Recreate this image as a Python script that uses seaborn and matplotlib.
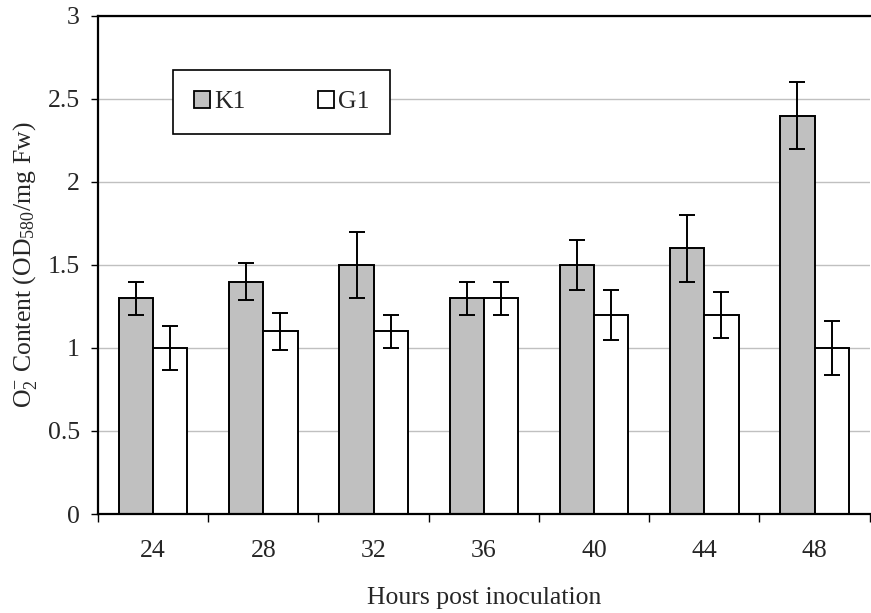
import numpy as np
import pandas as pd
import matplotlib
matplotlib.use("Agg")
import matplotlib.pyplot as plt
import seaborn as sns
from matplotlib.patches import Patch

hours = ["24", "28", "32", "36", "40", "44", "48"]
k1_vals = [1.3, 1.4, 1.5, 1.3, 1.5, 1.6, 2.4]
k1_err = [0.10, 0.11, 0.20, 0.10, 0.15, 0.20, 0.20]
g1_vals = [1.0, 1.1, 1.1, 1.3, 1.2, 1.2, 1.0]
g1_err = [0.13, 0.11, 0.10, 0.10, 0.15, 0.14, 0.16]
series = ["K1", "G1"]
colors = {"K1": "#c0c0c0", "G1": "#ffffff"}
yticks = [0, 0.5, 1, 1.5, 2, 2.5, 3]

sns.set_theme(style="white")
plt.rcParams["font.family"] = ["Liberation Serif", "DejaVu Serif"]
plt.rcParams["mathtext.fontset"] = "custom"
plt.rcParams["mathtext.rm"] = "Liberation Serif"
plt.rcParams["mathtext.it"] = "Liberation Serif:italic"

FS = 18.5

df = pd.DataFrame({
    "hour": hours * 2,
    "value": k1_vals + g1_vals,
    "err": k1_err + g1_err,
    "series": ["K1"] * len(hours) + ["G1"] * len(hours),
})

fig = plt.figure(figsize=(8.71, 6.13), dpi=100)
ax = fig.add_axes([0.1125, 0.1615, 0.886, 0.8125])

sns.barplot(data=df, x="hour", y="value", hue="series", hue_order=series,
            order=hours, palette=colors, edgecolor="black", linewidth=1.4,
            width=0.62, gap=0, errorbar=None, legend=False, ax=ax, zorder=2)

bars = [p for p in ax.patches]
n = len(hours)
for si, s in enumerate(series):
    sub = df[df.series == s].set_index("hour").loc[hours]
    xs = [bars[si * n + i].get_x() + bars[si * n + i].get_width() / 2 for i in range(n)]
    ax.errorbar(xs, sub["value"].values, yerr=sub["err"].values, fmt="none",
                ecolor="black", elinewidth=1.4, capsize=6, capthick=1.4, zorder=3)

ax.set_ylim(0, 3)
ax.set_xlim(-0.5, n - 0.5)
ax.set_yticks(yticks)
ax.set_yticklabels([f"{v:g}" for v in yticks])
ax.yaxis.grid(True, color="#c0c0c0", linewidth=1, zorder=0)
ax.set_axisbelow(True)

ax.set_xticks(np.arange(-0.5, n, 1))
ax.set_xticklabels([])
ax.set_xticks(np.arange(n), minor=True)
ax.set_xticklabels(hours, minor=True)
ax.tick_params(axis="x", which="major", direction="out", length=6, width=1, color="black", bottom=True)
ax.tick_params(axis="x", which="minor", length=0, pad=19, labelsize=FS)
ax.tick_params(axis="y", direction="out", length=5, width=1, color="black", left=True, pad=8, labelsize=FS)

for side in ["left", "bottom", "top"]:
    ax.spines[side].set_visible(True)
    ax.spines[side].set_color("black")
    ax.spines[side].set_linewidth(1.6)
ax.spines["right"].set_visible(False)

ax.set_xlabel("Hours post inoculation", fontsize=FS, labelpad=18)
ax.set_ylabel(r"O$_2^{-}$ Content (OD$_{580}$/mg Fw)", fontsize=FS, labelpad=6)

handles = [Patch(facecolor=colors[s], edgecolor="black", linewidth=1.3, label=s) for s in series]
leg = ax.legend(handles=handles, ncol=2, loc="center",
                bbox_to_anchor=(0.091, 0.76, 0.294, 0.135),
                frameon=True, fancybox=False, edgecolor="black", framealpha=1,
                fontsize=FS, handlelength=0.65, handleheight=0.65, handletextpad=0.15,
                columnspacing=2.8, borderpad=0.8)
leg.get_frame().set_linewidth(1.2)
leg.set_zorder(5)

fig.savefig("out.png", dpi=100)
